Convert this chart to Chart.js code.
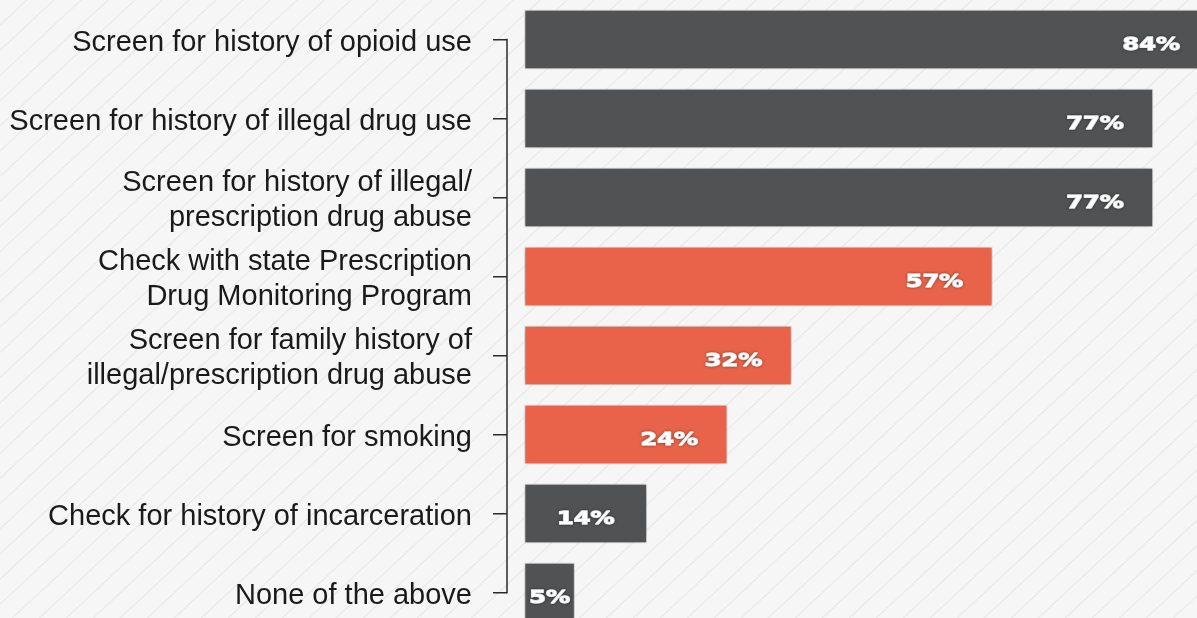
<!DOCTYPE html>
<html>
<head>
<meta charset="utf-8">
<script src="https://cdn.jsdelivr.net/npm/chart.js@4.4.1/dist/chart.umd.min.js"></script>
<style>
  html, body { margin: 0; padding: 0; overflow: hidden; background: #f6f6f6; }
  #wrap { position: absolute; left: 0; top: 0; width: 1230px; height: 632px; }
</style>
</head>
<body>
<div id="wrap"><canvas id="chart"></canvas></div>
<script>
// Screening steps taken before prescribing opioids (share of respondents, %)
const categories = [
  'Screen for history of opioid use',
  'Screen for history of illegal drug use',
  ['Screen for history of illegal/', 'prescription drug abuse'],
  ['Check with state Prescription', 'Drug Monitoring Program'],
  ['Screen for family history of', 'illegal/prescription drug abuse'],
  'Screen for smoking',
  'Check for history of incarceration',
  'None of the above'
];
const percentages = [84, 77, 77, 57, 32, 24, 14, 5];
const valueLabels = ['84%', '77%', '77%', '57%', '32%', '24%', '14%', '5%'];

// styling
const DARK = '#515254';
const ORANGE = '#E8634A';
const barColors = [DARK, DARK, DARK, ORANGE, ORANGE, ORANGE, DARK, DARK];

// striped backdrop behind everything
const backdrop = {
  id: 'backdrop',
  beforeDraw(chart) {
    const { ctx, width, height } = chart;
    ctx.save();
    ctx.fillStyle = '#f6f6f6';
    ctx.fillRect(0, 0, width, height);
    ctx.strokeStyle = 'rgba(215,215,215,0.42)';
    ctx.lineWidth = 1.2;
    const slope = Math.tan(43 * Math.PI / 180);
    const step = 27;
    for (let x0 = -height / slope; x0 < width + step; x0 += step) {
      ctx.beginPath();
      ctx.moveTo(x0, height);
      ctx.lineTo(x0 + height / slope, 0);
      ctx.stroke();
    }
    ctx.restore();
  }
};

// nudge the category labels so the glyphs sit centred on their ticks
const labelNudge = {
  id: 'labelNudge',
  beforeDraw(chart) {
    chart.scales.y.getLabelItems().forEach(item => {
      if (!item._nudged) {
        item.options.translation = [item.options.translation[0], item.options.translation[1] + 3];
        item._nudged = true;
      }
    });
  }
};

// soft shadow under the bars
const barShadow = {
  id: 'barShadow',
  beforeDatasetsDraw(chart) {
    const ctx = chart.ctx;
    ctx.save();
    ctx.shadowColor = 'rgba(0,0,0,0.28)';
    ctx.shadowBlur = 7;
    ctx.shadowOffsetX = 0;
    ctx.shadowOffsetY = 0;
  },
  afterDatasetsDraw(chart) {
    chart.ctx.restore();
  }
};

// bracket joining the category ticks
const bracket = {
  id: 'bracket',
  afterDraw(chart) {
    const y = chart.scales.y;
    const { ctx, chartArea } = chart;
    const top = y.getPixelForValue(0);
    const bottom = y.getPixelForValue(categories.length - 1);
    ctx.save();
    ctx.strokeStyle = '#2a2a2a';
    ctx.lineWidth = 1.5;
    ctx.beginPath();
    ctx.moveTo(chartArea.left, top - 0.75);
    ctx.lineTo(chartArea.left, bottom + 0.75);
    ctx.stroke();
    ctx.restore();
  }
};

// white value labels inside each bar
const valueText = {
  id: 'valueText',
  afterDatasetsDraw(chart) {
    const { ctx } = chart;
    const meta = chart.getDatasetMeta(0);
    ctx.save();
    ctx.font = 'bold 18.5px "DejaVu Sans"';
    ctx.fillStyle = '#ffffff';
    ctx.strokeStyle = '#ffffff';
    ctx.lineWidth = 1.3;
    ctx.lineJoin = 'round';
    ctx.textBaseline = 'middle';
    ctx.shadowColor = 'rgba(0,0,0,0.35)';
    ctx.shadowBlur = 3;
    const stretch = 1.3;
    meta.data.forEach((bar, i) => {
      const text = valueLabels[i];
      const w = ctx.measureText(text).width * stretch;
      const barW = bar.x - bar.base;
      let left;
      if (barW < 150) {
        left = bar.base + (barW - w) / 2;
      } else {
        left = bar.x - 29 - w;
      }
      ctx.save();
      ctx.translate(left, bar.y + 5.5);
      ctx.scale(stretch, 1);
      ctx.strokeText(text, 0, 0);
      ctx.fillText(text, 0, 0);
      ctx.restore();
    });
    ctx.restore();
  }
};

new Chart(document.getElementById('chart'), {
  type: 'bar',
  data: {
    labels: categories,
    datasets: [{
      data: percentages,
      base: -1.2,
      backgroundColor: barColors,
      borderColor: 'rgba(225,225,225,0.7)',
      borderWidth: 1,
      borderSkipped: false,
      barThickness: 59
    }]
  },
  options: {
    indexAxis: 'y',
    responsive: true,
    maintainAspectRatio: false,
    animation: false,
    layout: { padding: 0 },
    plugins: {
      legend: { display: false },
      tooltip: { enabled: false }
    },
    scales: {
      x: {
        display: false,
        min: -3.4,
        max: 86.6
      },
      y: {
        type: 'category',
        afterFit(scale) {
          scale.width = 507;
          scale.paddingTop = 0;
          scale.paddingBottom = 0;
        },
        border: { display: false },
        grid: {
          display: true,
          offset: false,
          drawOnChartArea: false,
          drawTicks: true,
          tickLength: 14,
          tickColor: '#2a2a2a',
          lineWidth: 1.5
        },
        ticks: {
          padding: 21,
          color: '#1a1a1a',
          font: { family: '"Liberation Sans", Arial, sans-serif', size: 29, lineHeight: 1.19 }
        }
      }
    }
  },
  plugins: [backdrop, labelNudge, barShadow, bracket, valueText]
});
</script>
</body>
</html>
